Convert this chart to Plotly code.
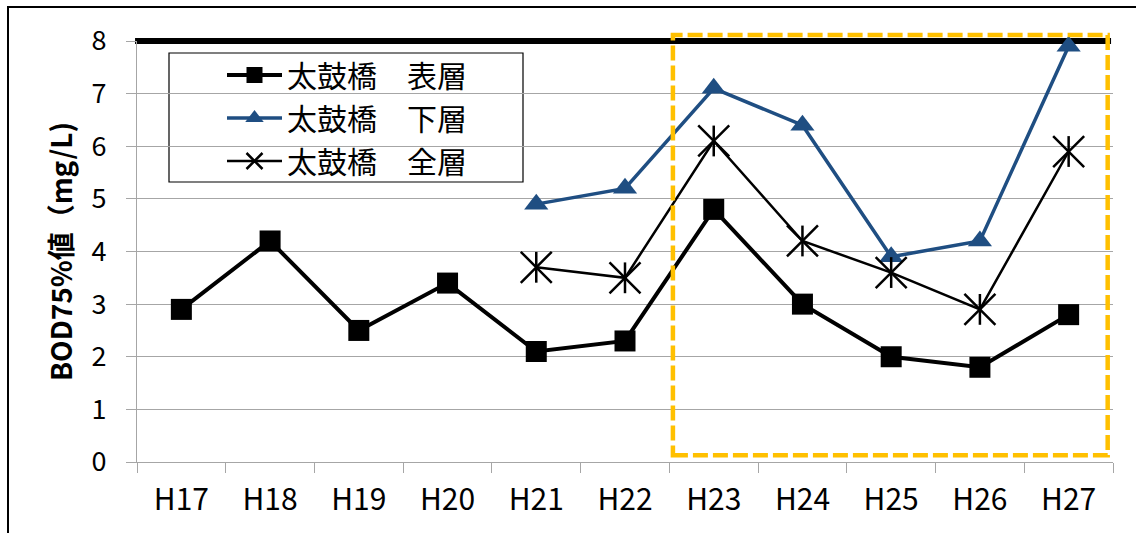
import plotly.graph_objects as go

# Fiscal years (Heisei) on the category axis
years = ["H17", "H18", "H19", "H20", "H21", "H22", "H23", "H24", "H25", "H26", "H27"]

# BOD 75% values (mg/L) at Taiko-bashi
surface_layer = [2.9, 4.2, 2.5, 3.4, 2.1, 2.3, 4.8, 3.0, 2.0, 1.8, 2.8]
bottom_layer = [None, None, None, None, 4.9, 5.2, 7.1, 6.4, 3.9, 4.2, 7.9]
whole_layer = [None, None, None, None, 3.7, 3.5, 6.1, 4.2, 3.6, 2.9, 5.9]

series_names = ["太鼓橋　表層", "太鼓橋　下層", "太鼓橋　全層"]

# Environmental standard value and y-axis limits
standard_value = 8
y_min, y_max = 0, 8

# Category span highlighted by the dashed frame (H23 to H27)
highlight_first, highlight_last = "H23", "H27"

BLUE = "#1F4E82"
GRID = "#A6A6A6"
ORANGE = "#FFC000"
CJK = "Noto Sans CJK JP"

W, H = 1136, 533
ML, MR, MT, MB = 137, 23, 41, 71
PW, PH = W - ML - MR, H - MT - MB


def px_x(px):
    return (px - ML) / PW


def px_y(py):
    return (H - MB - py) / PH


fig = go.Figure()

fig.add_trace(go.Scatter(
    x=years, y=surface_layer, name=series_names[0], mode="lines+markers",
    line=dict(color="black", width=4),
    marker=dict(symbol="square", size=21, color="black"),
    legendgroup="a", cliponaxis=False,
))
fig.add_trace(go.Scatter(
    x=years, y=bottom_layer, name=series_names[1], mode="lines+markers",
    line=dict(color=BLUE, width=3.5),
    marker=dict(symbol="triangle-up", size=21, color=BLUE),
    legendgroup="b", cliponaxis=False,
))
fig.add_trace(go.Scatter(
    x=years, y=whole_layer, name=series_names[2], mode="lines+markers",
    line=dict(color="black", width=2.5),
    marker=dict(symbol="x-thin-open", size=31, color="black",
                line=dict(color="black", width=2.5)),
    legendgroup="c", cliponaxis=False,
))
# vertical stroke completing the asterisk markers
fig.add_trace(go.Scatter(
    x=years, y=whole_layer, mode="markers", showlegend=False, hoverinfo="skip",
    marker=dict(symbol="line-ns-open", size=22, color="black",
                line=dict(color="black", width=2.5)),
    cliponaxis=False,
))

n = len(years)
i0 = years.index(highlight_first)
i1 = years.index(highlight_last)
shapes = [
    # environmental standard line
    dict(type="line", xref="paper", yref="paper", x0=-0.002, x1=0.998,
         y0=standard_value / y_max, y1=standard_value / y_max,
         line=dict(color="black", width=6), layer="below"),
    # dashed highlight frame
    dict(type="rect", xref="paper", yref="paper",
         x0=(i0 + 0.04) / n, x1=(i1 + 0.94) / n,
         y0=0.016, y1=1.014,
         line=dict(color=ORANGE, width=4.5, dash="15px,5px"), layer="above"),
    # legend box
    dict(type="rect", xref="paper", yref="paper",
         x0=px_x(169), x1=px_x(523), y0=px_y(182), y1=px_y(53),
         line=dict(color="black", width=1.2), fillcolor="white", layer="between"),
    # outer chart frame
    dict(type="rect", xref="paper", yref="paper",
         x0=px_x(8), x1=1.5, y0=-1.0, y1=px_y(7),
         line=dict(color="black", width=2), layer="above"),
]

fig.update_layout(
    width=W, height=H,
    margin=dict(l=ML, r=MR, t=MT, b=MB, autoexpand=False),
    paper_bgcolor="white", plot_bgcolor="white",
    showlegend=True,
    legend=dict(
        x=px_x(222), y=px_y(49), xanchor="left", yanchor="top",
        bgcolor="rgba(0,0,0,0)", borderwidth=0,
        font=dict(family=CJK, size=30, color="black"),
        itemwidth=55, tracegroupgap=1, traceorder="grouped",
    ),
    shapes=shapes,
)

fig.update_xaxes(
    type="category", categoryorder="array", categoryarray=years,
    range=[-0.5, n - 0.5],
    showgrid=False, showline=True, linecolor=GRID, linewidth=1.3,
    ticks="outside", tickson="boundaries", ticklen=10, tickcolor=GRID, tickwidth=1.3,
    tickfont=dict(family=CJK, size=30, color="black"),
    ticklabelstandoff=11,
)
fig.update_yaxes(
    range=[y_min, y_max], dtick=1,
    showgrid=True, gridcolor=GRID, gridwidth=1.3,
    showline=True, linecolor=GRID, linewidth=1.3,
    ticks="outside", ticklen=10, tickcolor=GRID, tickwidth=1.3,
    tickfont=dict(family=CJK, size=27, color="black"),
    ticklabelstandoff=14,
    zeroline=False,
    title=dict(text="<b>BOD75%値（mg/L)</b>", font=dict(family=CJK, size=28, color="black"),
               standoff=10),
    automargin=False,
)

fig.write_html("out.html")
